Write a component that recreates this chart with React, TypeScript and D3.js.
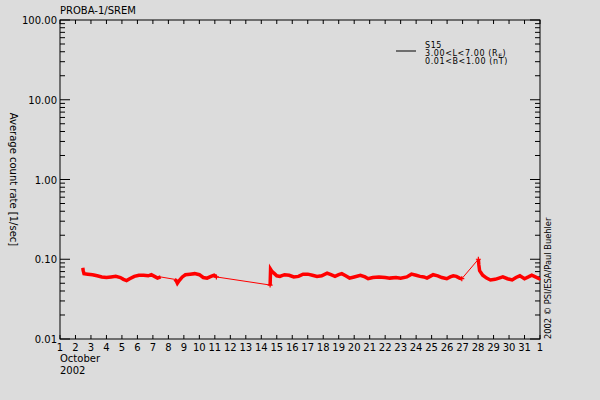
import { useMemo } from "react";
import * as d3 from "d3";

// day of October 2002 (32 = 1 November), count rate [1/sec]
const segA: [number, number][] = [
  [2.47, 0.078], [2.5, 0.072], [2.55, 0.066], [2.8, 0.065], [3.1, 0.064], [3.4, 0.062],
  [3.7, 0.06], [4.0, 0.059], [4.3, 0.06], [4.6, 0.061], [4.9, 0.059], [5.1, 0.056],
  [5.3, 0.054], [5.5, 0.057], [5.8, 0.061], [6.1, 0.063], [6.4, 0.063], [6.7, 0.062],
  [6.9, 0.064], [7.1, 0.061], [7.3, 0.058], [7.5, 0.06],
];
const segB: [number, number][] = [
  [8.4, 0.056], [8.5, 0.054], [8.58, 0.05], [8.7, 0.054], [8.9, 0.06], [9.1, 0.064],
  [9.4, 0.065], [9.7, 0.066], [10.0, 0.064], [10.25, 0.059], [10.5, 0.058], [10.75, 0.061],
  [10.95, 0.063], [11.1, 0.06],
];
const segC: [number, number][] = [
  [14.57, 0.0475], [14.6, 0.075], [14.7, 0.07], [14.85, 0.066], [15.0, 0.062], [15.2, 0.061],
  [15.5, 0.064], [15.8, 0.063], [16.1, 0.06], [16.4, 0.061], [16.7, 0.065], [17.0, 0.065],
  [17.3, 0.063], [17.6, 0.061], [17.9, 0.062], [18.25, 0.067], [18.5, 0.064], [18.76, 0.061],
  [19.0, 0.064], [19.2, 0.066], [19.45, 0.062], [19.7, 0.058], [20.0, 0.06], [20.4, 0.063],
  [20.7, 0.06], [20.9, 0.057], [21.2, 0.059], [21.6, 0.06], [22.0, 0.059], [22.3, 0.058],
  [22.7, 0.059], [23.0, 0.058], [23.4, 0.06], [23.7, 0.065], [24.0, 0.063], [24.25, 0.061],
  [24.5, 0.06], [24.7, 0.058], [24.9, 0.061], [25.1, 0.064], [25.4, 0.062], [25.66, 0.059],
  [25.98, 0.057], [26.2, 0.06], [26.4, 0.062], [26.6, 0.061], [26.8, 0.058], [26.95, 0.057],
];
const segD: [number, number][] = [
  [28.02, 0.1], [28.05, 0.085], [28.1, 0.072], [28.3, 0.063], [28.55, 0.058], [28.8, 0.055],
  [29.1, 0.056], [29.35, 0.058], [29.6, 0.06], [29.9, 0.057], [30.2, 0.055], [30.45, 0.059],
  [30.7, 0.062], [31.0, 0.057], [31.25, 0.06], [31.47, 0.063], [31.7, 0.06], [31.95, 0.057],
  [32.0, 0.058],
];
const segments = [segA, segB, segC, segD];
const gapPoints: [number, number][] = [[11.1, 0.06], [14.57, 0.0475], [26.95, 0.057], [28.02, 0.1]];

const dayTicks = d3.range(1, 33);
const dayLabels = [...d3.range(1, 32).map(String), "1"];
const yMajor = [0.01, 0.1, 1, 10, 100];
const yLabels = ["0.01", "0.10", "1.00", "10.00", "100.00"];

const W = 600;
const H = 400;
const left = 60;
const right = 540;
const top = 20;
const bottom = 339;
const font = "DejaVu Sans, sans-serif";

export default function App() {
  const x = d3.scaleLinear().domain([1, 32]).range([left, right]);
  const y = d3.scaleLog().domain([0.01, 100]).range([bottom, top]);

  const minor = useMemo(() => {
    const out: number[] = [];
    for (let i = 0; i < 4; i++) for (let k = 2; k <= 9; k++) out.push(k * yMajor[i]);
    return out;
  }, []);

  const line = d3
    .line<[number, number]>()
    .x((d) => x(d[0]))
    .y((d) => y(d[1]));
  const all = segments.flat();

  return (
    <svg width={W} height={H} style={{ position: "absolute", left: 0, top: 0, background: "#dcdcdc" }}>
      <rect width={W} height={H} fill="#dcdcdc" />
      <g fontFamily={font} fontSize={10} fill="#000">
        <text x={60} y={14}>PROBA-1/SREM</text>

        {/* frame */}
        <rect x={left} y={top} width={right - left} height={bottom - top} fill="none" stroke="#000" />

        {/* x ticks top and bottom */}
        {dayTicks.map((d) => (
          <g key={d}>
            <line x1={x(d)} x2={x(d)} y1={top} y2={top + 4} stroke="#000" />
            <line x1={x(d)} x2={x(d)} y1={bottom} y2={bottom - 4} stroke="#000" />
          </g>
        ))}
        {dayTicks.map((d, i) => (
          <text key={d} x={x(d)} y={351} textAnchor="middle">{dayLabels[i]}</text>
        ))}
        <text x={60} y={362}>October</text>
        <text x={60} y={374}>2002</text>

        {/* y ticks left and right */}
        {yMajor.map((v, i) => (
          <g key={v}>
            <line x1={left} x2={left + 10} y1={y(v)} y2={y(v)} stroke="#000" />
            <line x1={right} x2={right - 10} y1={y(v)} y2={y(v)} stroke="#000" />
            <text x={57} y={y(v) + 4} textAnchor="end">{yLabels[i]}</text>
          </g>
        ))}
        {minor.map((v) => (
          <g key={v}>
            <line x1={left} x2={left + 5} y1={y(v)} y2={y(v)} stroke="#000" />
            <line x1={right} x2={right - 5} y1={y(v)} y2={y(v)} stroke="#000" />
          </g>
        ))}

        <text transform={`translate(10,${(top + bottom) / 2}) rotate(90)`} textAnchor="middle">
          Average count rate [1/sec]
        </text>
        <text transform={`translate(551,${bottom}) rotate(-90)`} fontSize={8.3}>
          2002 © PSI/ESA/Paul Buehler
        </text>

        {/* data */}
        <path d={line(all) ?? ""} fill="none" stroke="#ff0000" strokeWidth={1} />
        {segments.map((s, i) => (
          <path key={i} d={line(s) ?? ""} fill="none" stroke="#ff0000" strokeWidth={3.5} strokeLinejoin="miter" />
        ))}
        {gapPoints.map((p, i) => (
          <path
            key={i}
            d={`M${x(p[0]) - 2.5},${y(p[1])}h5M${x(p[0])},${y(p[1]) - 2.5}v5`}
            stroke="#ff0000"
            strokeWidth={1.2}
          />
        ))}

        {/* legend */}
        <line x1={396} x2={416} y1={51} y2={51} stroke="#000" />
        <g fontSize={8} letterSpacing={0.6}>
          <text x={425} y={48}>S15</text>
          <text x={425} y={56}>
            3.00&lt;L&lt;7.00 (R<tspan fontSize={6} dy={1.5}>E</tspan><tspan dy={-1.5}>)</tspan>
          </text>
          <text x={425} y={64}>0.01&lt;B&lt;1.00 (nT)</text>
        </g>
      </g>
    </svg>
  );
}
